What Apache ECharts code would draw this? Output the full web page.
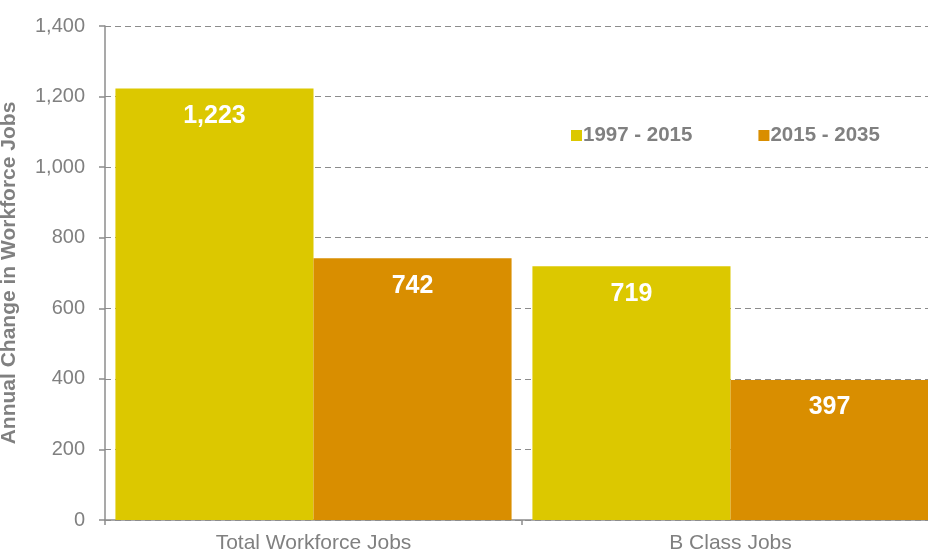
<!DOCTYPE html>
<html>
<head>
<meta charset="utf-8">
<script src="https://cdn.jsdelivr.net/npm/echarts@6/dist/echarts.min.js"></script>
<style>
  html, body { margin: 0; padding: 0; background: #fff; }
  #chart { width: 928px; height: 552px; }
</style>
</head>
<body>
<div id="chart"></div>
<script>
const categories = ["Total Workforce Jobs", "B Class Jobs"];
const seriesNames = ["1997 - 2015", "2015 - 2035"];
const values1997 = [1223, 719];
const values2015 = [742, 397];

const chart = echarts.init(document.getElementById("chart"));

const labelStyle = {
  show: true,
  position: "insideTop",
  distance: 15,
  color: "#fff",
  fontWeight: "bold",
  fontSize: 25,
  fontFamily: "Liberation Sans, Arial, sans-serif",
  formatter: (p) => p.value.toLocaleString("en-US"),
};

const options = {
  animation: false,
  textStyle: { fontFamily: "Liberation Sans, Arial, sans-serif" },
  grid: { left: 105, top: 26, width: 834, height: 494, containLabel: false, outerBoundsMode: "none" },
  legend: {
    left: 566,
    top: 120,
    itemWidth: 11,
    itemHeight: 11,
    itemGap: 66,
    icon: "rect",
    textStyle: { color: "#808080", fontWeight: "bold", fontSize: 20.5, padding: [0, 0, 0, -4] },
    data: seriesNames,
  },
  xAxis: {
    type: "category",
    data: categories,
    axisLine: { lineStyle: { color: "#8c8c8c", width: 1.5 } },
    axisTick: { show: true, length: 5, lineStyle: { color: "#8c8c8c", width: 1.5 } },
    axisLabel: { color: "#808080", fontSize: 21, margin: 13 },
  },
  yAxis: {
    type: "value",
    min: 0,
    max: 1400,
    interval: 200,
    name: "Annual Change in Workforce Jobs",
    nameLocation: "middle",
    nameGap: 85,
    nameTextStyle: { color: "#808080", fontWeight: "bold", fontSize: 21 },
    axisLine: { show: true, lineStyle: { color: "#8c8c8c", width: 1.5 } },
    axisTick: { show: true, length: 6, lineStyle: { color: "#8c8c8c", width: 1.5 } },
    axisLabel: {
      color: "#808080",
      fontSize: 20,
      margin: 20,
      formatter: (v) => v.toLocaleString("en-US"),
    },
    splitLine: { show: true, lineStyle: { color: "#8c8c8c", type: [6, 4], width: 1.2 } },
  },
  series: [
    {
      name: seriesNames[0],
      type: "bar",
      data: values1997,
      barGap: "0%",
      barCategoryGap: "5%",
      itemStyle: { color: "#dcc800" },
      label: labelStyle,
    },
    {
      name: seriesNames[1],
      type: "bar",
      data: values2015,
      itemStyle: { color: "#d98e00" },
      label: labelStyle,
    },
  ],
};

chart.setOption(options);
</script>
</body>
</html>
